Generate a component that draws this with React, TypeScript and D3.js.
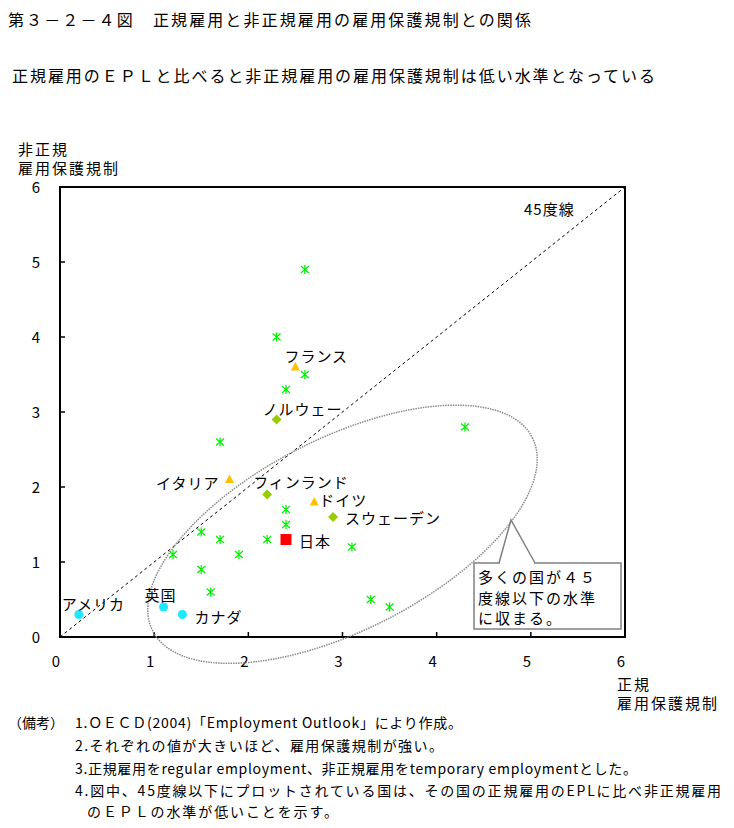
import React from 'react';
import * as d3 from 'd3';

const titleText = '第３－２－４図　正規雇用と非正規雇用の雇用保護規制との関係';
const subtitleText = '正規雇用のＥＰＬと比べると非正規雇用の雇用保護規制は低い水準となっている';

const countries = ['フランス', 'ノルウェー', 'イタリア', 'フィンランド', 'ドイツ', 'スウェーデン', '日本', 'アメリカ', '英国', 'カナダ'];
const regularEPL = [2.5, 2.3, 1.8, 2.2, 2.7, 2.9, 2.4, 0.2, 1.1, 1.3];
const temporaryEPL = [3.6, 2.9, 2.1, 1.9, 1.8, 1.6, 1.3, 0.3, 0.4, 0.3];
const countryGroup = ['tri', 'dia', 'tri', 'dia', 'tri', 'dia', 'sq', 'cir', 'cir', 'cir'];

const otherRegular = [2.6, 2.3, 2.6, 2.4, 1.7, 4.3, 2.4, 2.4, 2.2, 3.1, 1.5, 1.7, 1.2, 1.9, 1.5, 1.6, 3.3, 3.5];
const otherTemporary = [4.9, 4.0, 3.5, 3.3, 2.6, 2.8, 1.7, 1.5, 1.3, 1.2, 1.4, 1.3, 1.1, 1.1, 0.9, 0.6, 0.5, 0.4];

const xTicks = [0, 1, 2, 3, 4, 5, 6];
const yTicks = [0, 1, 2, 3, 4, 5, 6];

const notes = [
  '1.ＯＥＣＤ(2004)「Employment Outlook」により作成。',
  '2.それぞれの値が大きいほど、雇用保護規制が強い。',
  '3.正規雇用をregular employment、非正規雇用をtemporary employmentとした。',
  '4.図中、45度線以下にプロットされている国は、その国の正規雇用のEPLに比べ非正規雇用',
  'のＥＰＬの水準が低いことを示す。',
];
const calloutLines = ['多くの国が４５', '度線以下の水準', 'に収まる。'];

// label offsets (style)
const labelOffsets: Record<string, [number, number, string]> = {
  'フランス': [-11, -5, 'start'],
  'ノルウェー': [-14, -5, 'start'],
  'イタリア': [-10, 9, 'end'],
  'フィンランド': [-14, -7, 'start'],
  'ドイツ': [5, 4, 'start'],
  'スウェーデン': [12, 7, 'start'],
  '日本': [13, 7, 'start'],
  'アメリカ': [-17, -5, 'start'],
  '英国': [-19, -6, 'start'],
  'カナダ': [12, 8, 'start'],
};

const FONT = '"Noto Sans CJK JP", "Noto Sans", sans-serif';

export default function App() {
  const x = d3.scaleLinear().domain([0, 6]).range([60, 625]);
  const y = d3.scaleLinear().domain([0, 6]).range([637, 187]);

  const marker = (g: string, px: number, py: number, key: string) => {
    if (g === 'tri') {
      return <path key={key} d={`M${px},${py - 5}L${px + 4.5},${py + 3.5}L${px - 4.5},${py + 3.5}Z`} fill="#FFC000" />;
    }
    if (g === 'dia') {
      return <path key={key} d={`M${px},${py - 5}L${px + 5},${py}L${px},${py + 5}L${px - 5},${py}Z`} fill="#99CC00" />;
    }
    if (g === 'sq') {
      return <rect key={key} x={px - 5.5} y={py - 5.5} width={11} height={11} fill="#FF0000" />;
    }
    return <circle key={key} cx={px} cy={py} r={4.5} fill="#1EE8FF" />;
  };

  const cx = x(3.0);
  const cy = y(1.37);

  return (
    <svg width={734} height={828} style={{ position: 'absolute', left: 0, top: 0, background: '#fff' }} fontFamily={FONT}>
      <rect x={0} y={0} width={734} height={828} fill="#fff" />
      <text x={8} y={26} fontSize={16} textLength={523} lengthAdjust="spacing">{titleText}</text>
      <text x={12} y={82} fontSize={16} textLength={643} lengthAdjust="spacing">{subtitleText}</text>

      {/* axis titles */}
      <text x={18} y={155} fontSize={15} letterSpacing={2}>非正規</text>
      <text x={18} y={174} fontSize={15} letterSpacing={2}>雇用保護規制</text>
      <text x={617} y={690} fontSize={15} letterSpacing={2}>正規</text>
      <text x={617} y={709} fontSize={15} letterSpacing={2}>雇用保護規制</text>

      {/* 45 degree line */}
      <line x1={x(0)} y1={y(0)} x2={x(6)} y2={y(6)} stroke="#000" strokeWidth={1} strokeDasharray="3,3" />
      <text x={524} y={215} fontSize={15} letterSpacing={1}>45度線</text>

      {/* frame */}
      <rect x={x(0)} y={y(6)} width={x(6) - x(0)} height={y(0) - y(6)} fill="none" stroke="#000" strokeWidth={2} />
      {xTicks.map((t) => (
        <g key={'xt' + t}>
          <line x1={x(t)} x2={x(t)} y1={y(0)} y2={y(0) - 5} stroke="#000" strokeWidth={1.5} />
          <text x={x(t) - 4} y={667} fontSize={15} textAnchor="middle">{t}</text>
        </g>
      ))}
      {yTicks.map((t) => (
        <g key={'yt' + t}>
          <line x1={x(0)} x2={x(0) + 5} y1={y(t)} y2={y(t)} stroke="#000" strokeWidth={1.5} />
          <text x={40} y={y(t) + 6} fontSize={15} textAnchor="end">{t}</text>
        </g>
      ))}

      {/* ellipse */}
      <ellipse cx={cx} cy={cy} rx={213} ry={96} transform={`rotate(-27 ${cx} ${cy})`} fill="none" stroke="#8a8a8a" strokeWidth={1.5} strokeDasharray="1.5,1" />

      {/* other countries */}
      {otherRegular.map((r, i) => {
        const px = x(r);
        const py = y(otherTemporary[i]);
        return (
          <path key={'o' + i} d={`M${px},${py - 4.5}L${px},${py + 4.5}M${px - 4},${py - 3.5}L${px + 4},${py + 3.5}M${px - 4},${py + 3.5}L${px + 4},${py - 3.5}`} stroke="#00F000" strokeWidth={1.2} fill="none" />
        );
      })}

      {/* labelled countries */}
      {countries.map((c, i) => {
        const px = x(regularEPL[i]);
        const py = y(temporaryEPL[i]);
        const [dx, dy, anchor] = labelOffsets[c];
        return (
          <g key={c}>
            {marker(countryGroup[i], px, py, 'm' + i)}
            <text x={px + dx} y={py + dy} fontSize={15} letterSpacing={1} textAnchor={anchor as any}>{c}</text>
          </g>
        );
      })}

      {/* callout */}
      <path d={`M499,563 L${x(4.8) - 1},520 L535,563`} fill="none" stroke="#808080" strokeWidth={1.5} />
      <rect x={474} y={563} width={147} height={66} fill="#fff" stroke="#808080" strokeWidth={1.5} />
      <line x1={500} x2={534} y1={563} y2={563} stroke="#fff" strokeWidth={2} />
      {calloutLines.map((l, i) => (
        <text key={'c' + i} x={478} y={583 + i * 20.5} fontSize={15} letterSpacing={2}>{l}</text>
      ))}

      {/* notes */}
      <text x={8} y={728} fontSize={14}>（備考）</text>
      <text x={75} y={728} fontSize={14} textLength={387} lengthAdjust="spacing">{notes[0]}</text>
      <text x={75} y={751} fontSize={14} textLength={368} lengthAdjust="spacing">{notes[1]}</text>
      <text x={75} y={774} fontSize={14} textLength={562} lengthAdjust="spacing">{notes[2]}</text>
      <text x={75} y={796} fontSize={14} textLength={646} lengthAdjust="spacing">{notes[3]}</text>
      <text x={87} y={817} fontSize={14} textLength={251} lengthAdjust="spacing">{notes[4]}</text>
    </svg>
  );
}
